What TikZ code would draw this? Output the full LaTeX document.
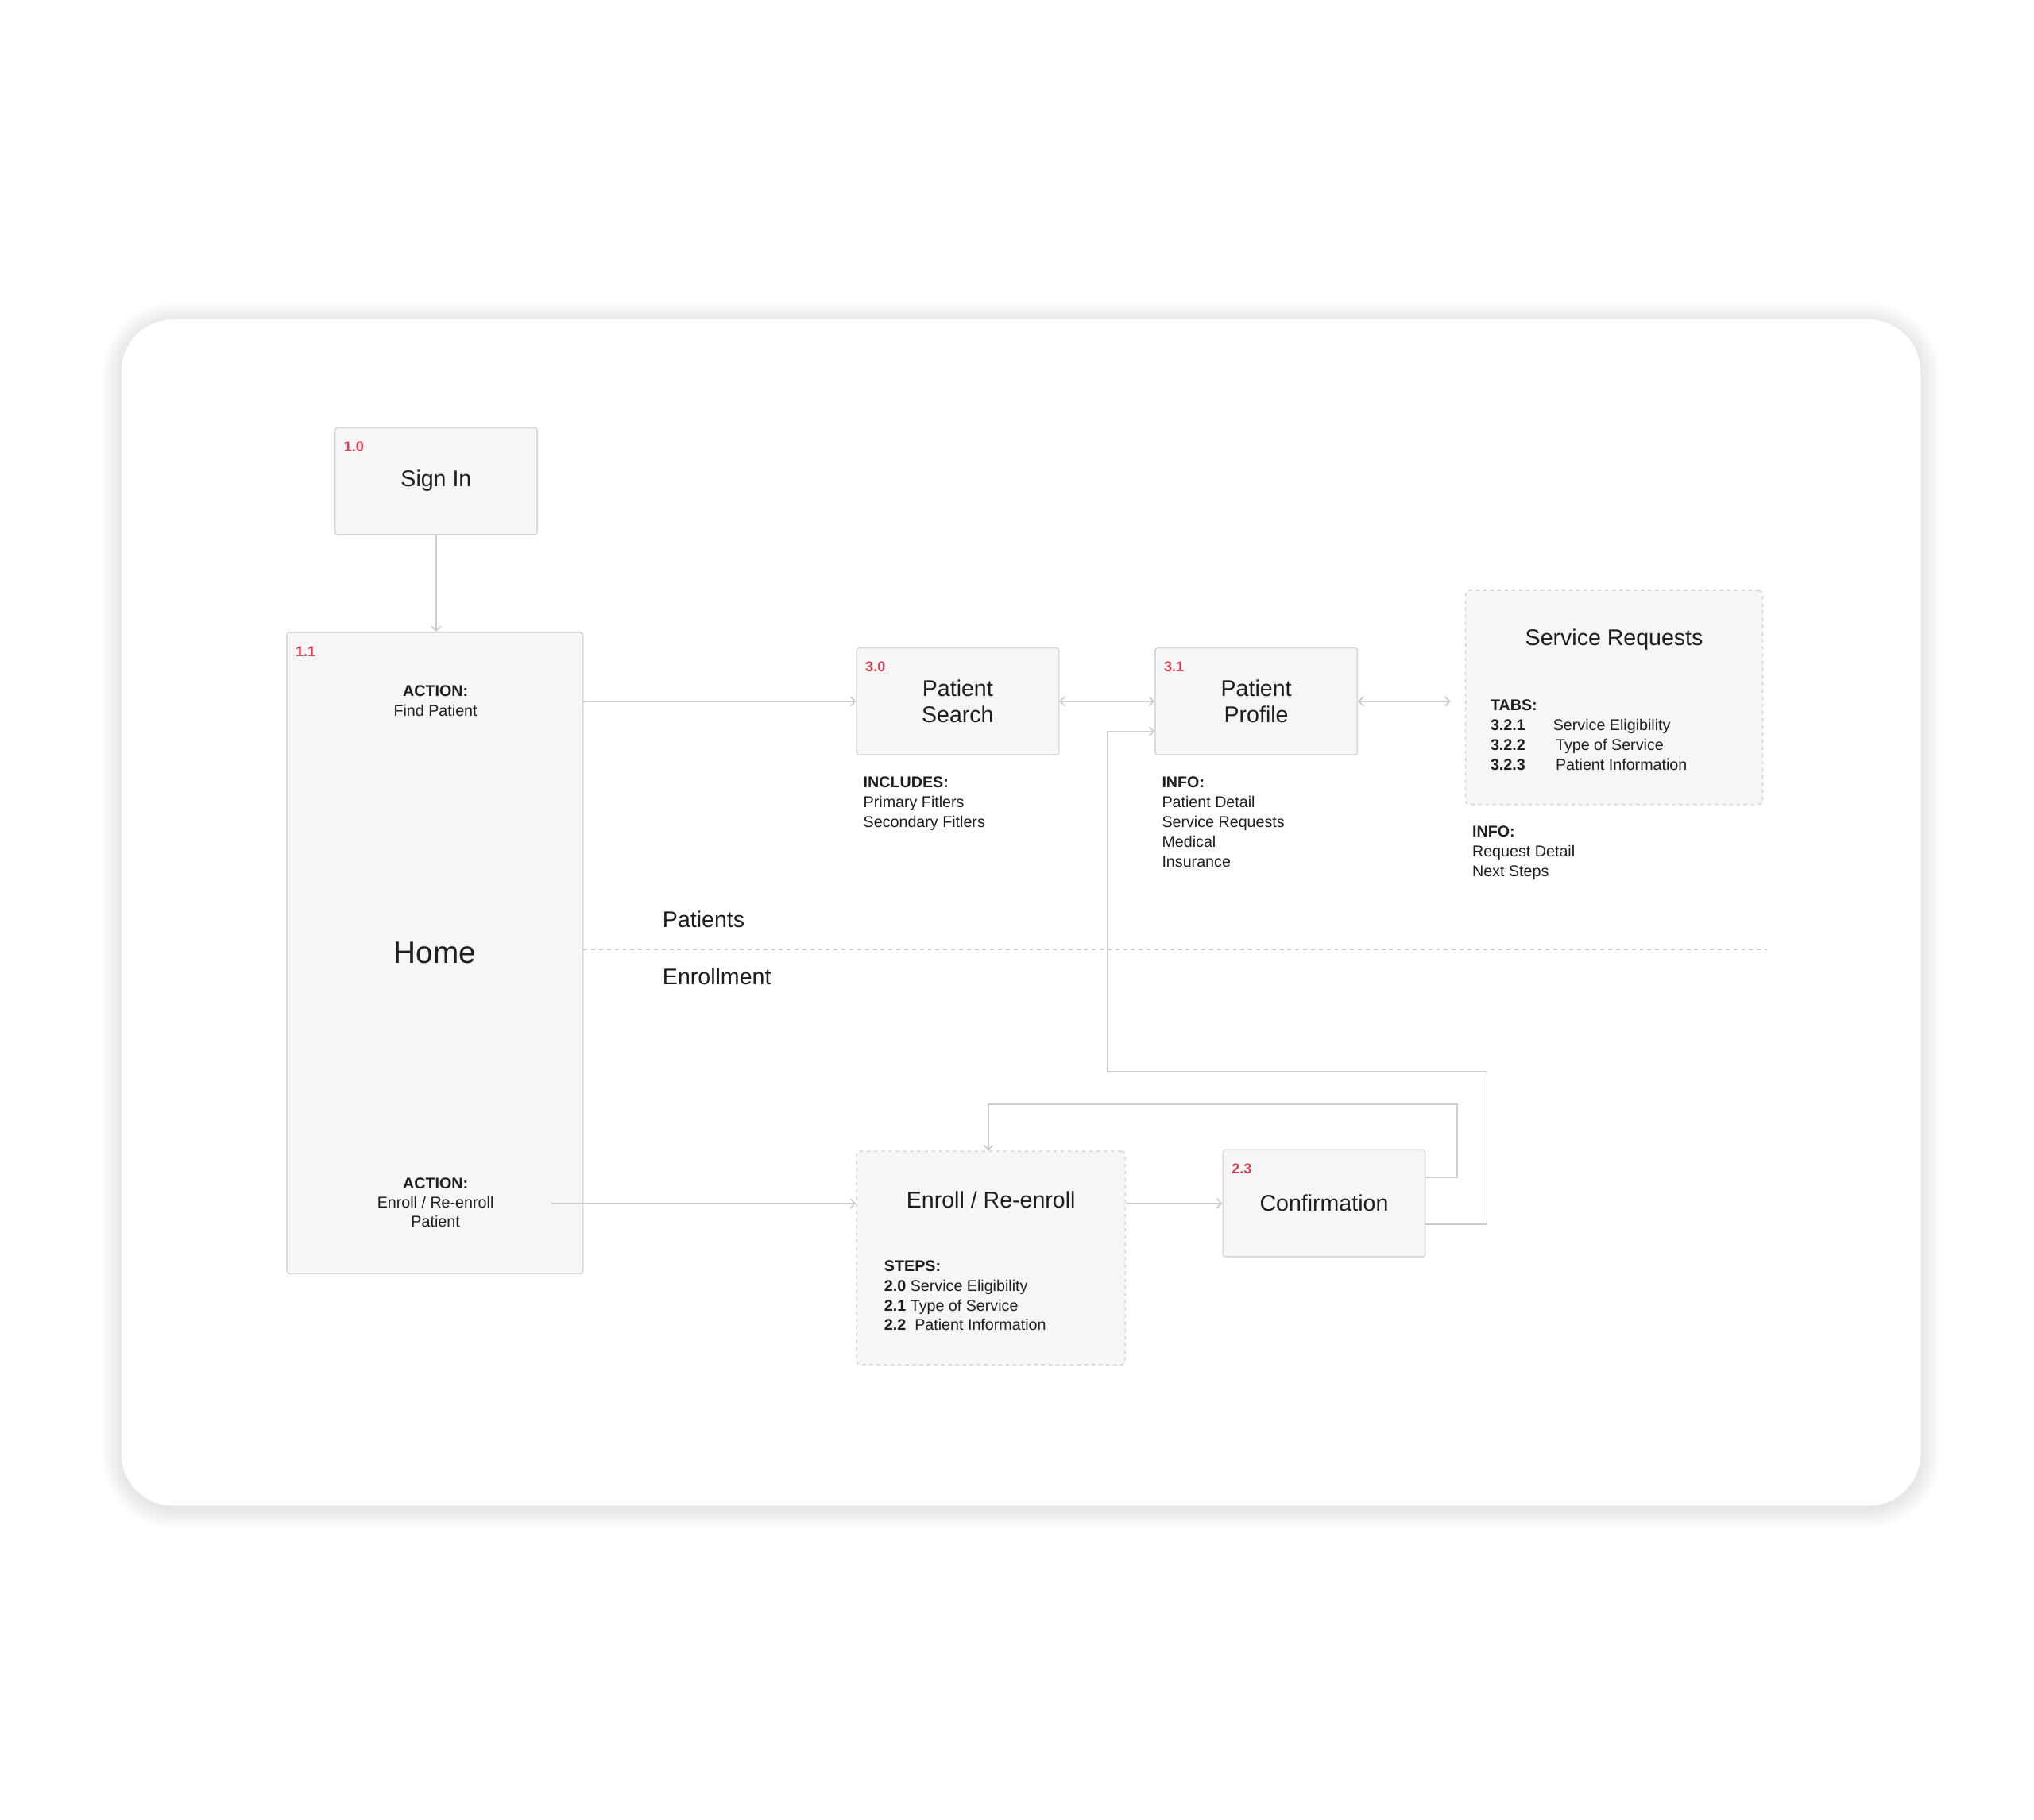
\documentclass[tikz,border=0pt]{standalone}
\usepackage{fontspec}
\setmainfont{Liberation Sans}
\usetikzlibrary{arrows.meta,positioning,calc}
\definecolor{inkGray}{HTML}{1E1E1E}
\definecolor{numRed}{HTML}{E03C52}
\definecolor{boxFill}{HTML}{F6F6F6}
\definecolor{boxLine}{HTML}{D4D4D4}
\definecolor{linkGray}{HTML}{CDCDCD}

\begin{document}
\begin{tikzpicture}[x=1pt,y=-1pt,
  screen/.style={draw=boxLine,fill=boxFill,rounded corners=2pt,line width=0.9pt,
    minimum width=155pt,minimum height=82pt,inner sep=0pt,align=center,
    text=inkGray,font=\fontsize{17.4}{20}\selectfont},
  dashbox/.style={screen,dash pattern=on 2.5pt off 3pt,rounded corners=3pt},
  num/.style={anchor=west,inner sep=0pt,text=numRed,font=\bfseries\fontsize{11}{12}\selectfont},
  note/.style={anchor=north west,inner sep=0pt,align=left,text=inkGray,font=\fontsize{12}{15.2}\selectfont},
  title/.style={inner sep=0pt,text=inkGray,font=\fontsize{17.4}{20}\selectfont},
  link/.style={draw=linkGray,line width=1pt,-{Straight Barb[length=3.5pt,width=7pt]}},
  twolink/.style={link,{Straight Barb[length=3.5pt,width=7pt]}-{Straight Barb[length=3.5pt,width=7pt]}}]
\useasboundingbox (0,0) rectangle (1560,1395.5);
% card with soft shadow
\foreach \i in {1,...,12}
  \draw[black,opacity=0.006,line width=2.5*\i pt,rounded corners=40pt] (93,247) rectangle (1473,1157);
\fill[white,rounded corners=40pt] (93,245) rectangle (1473,1155);
% screens
\node[screen] (signin) at (334.5,369) {Sign In};
\node[screen,minimum width=227pt,minimum height=492pt,font=\fontsize{23.6}{26}\selectfont] (home) at (333.5,731) {Home};
\node[screen] (search) at (734.5,538) {Patient\\Search};
\node[screen] (profile) at (963.5,538) {Patient\\Profile};
\node[dashbox,minimum width=228pt,minimum height=164pt] (requests) at (1238,535) {};
\node[dashbox,minimum width=206pt,minimum height=164pt] (enroll) at (760,965) {};
\node[screen] (confirm) at (1015.5,923) {Confirmation};
% numbers
\node[num] (signinnum) at ([shift={(7,15)}]signin.north west) {1.0};
\node[num] (homenum) at ([shift={(7,15)}]home.north west) {1.1};
\node[num] (searchnum) at ([shift={(7,15)}]search.north west) {3.0};
\node[num] (profilenum) at ([shift={(7,15)}]profile.north west) {3.1};
\node[num] (confirmnum) at ([shift={(7,15)}]confirm.north west) {2.3};
% titles and notes
\node[title] (requeststitle) at ([shift={(0,38)}]requests.north) {Service Requests};
\node[title] (enrolltitle) at ([shift={(0,38)}]enroll.north) {Enroll / Re-enroll};
\node[note,anchor=north,align=center] (findact) at (334,525.5) {\textbf{ACTION:}\\Find Patient};
\node[note,anchor=north,align=center,font=\fontsize{12}{14.6}\selectfont] (enrollact) at (334,903.5) {\textbf{ACTION:}\\Enroll / Re-enroll\\Patient};
\node[note] (includes) at (662,595.5) {\textbf{INCLUDES:}\\Primary Fitlers\\Secondary Fitlers};
\node[note] (profileinfo) at (891,595.5) {\textbf{INFO:}\\Patient Detail\\Service Requests\\Medical\\Insurance};
\node[note,font=\fontsize{12}{15.3}\selectfont] (tabs) at (1143,536.5) {\textbf{TABS:}\\
  \makebox[48pt][l]{\textbf{3.2.1}}Service Eligibility\\
  \makebox[50pt][l]{\textbf{3.2.2}}Type of Service\\
  \makebox[50pt][l]{\textbf{3.2.3}}Patient Information};
\node[note] (requestinfo) at (1129,633.5) {\textbf{INFO:}\\Request Detail\\Next Steps};
\node[note] (steps) at (678,966.5) {\textbf{STEPS:}\\
  \textbf{2.0} Service Eligibility\\
  \textbf{2.1} Type of Service\\
  \textbf{2.2}\ \ Patient Information};
% sections
\node[title,anchor=west] (patients) at (508,705) {Patients};
\node[title,anchor=west] (enrollment) at (508,749) {Enrollment};
\draw[linkGray,line width=1pt,dash pattern=on 3pt off 3pt] (home.east |- 0,728) -- (1355,728);
% connectors
\coordinate (actout) at (423,923);
\draw[link] (signin.south) -- (signin.south |- home.north);
\draw[link] (search.west -| home.east) -- (search.west);
\draw[twolink] (search.east) -- (profile.west);
\draw[twolink,shorten >=11pt] (profile.east) -- (requests.west |- profile.east);
\draw[link] (actout) -- (actout -| enroll.west);
\draw[link] (enroll.east |- confirm.west) -- (confirm.west);
\draw[link] ([shift={(0,-20)}]confirm.east) -- ++(24,0) -- ++(0,-56) -| ([shift={(-2,0)}]enroll.north);
\draw[link] ([shift={(0,16)}]confirm.east) -- ++(47,0) -- ++(0,-117) -| ([shift={(-36,23)}]profile.west) -- ([shift={(0,23)}]profile.west);
\end{tikzpicture}
\end{document}
